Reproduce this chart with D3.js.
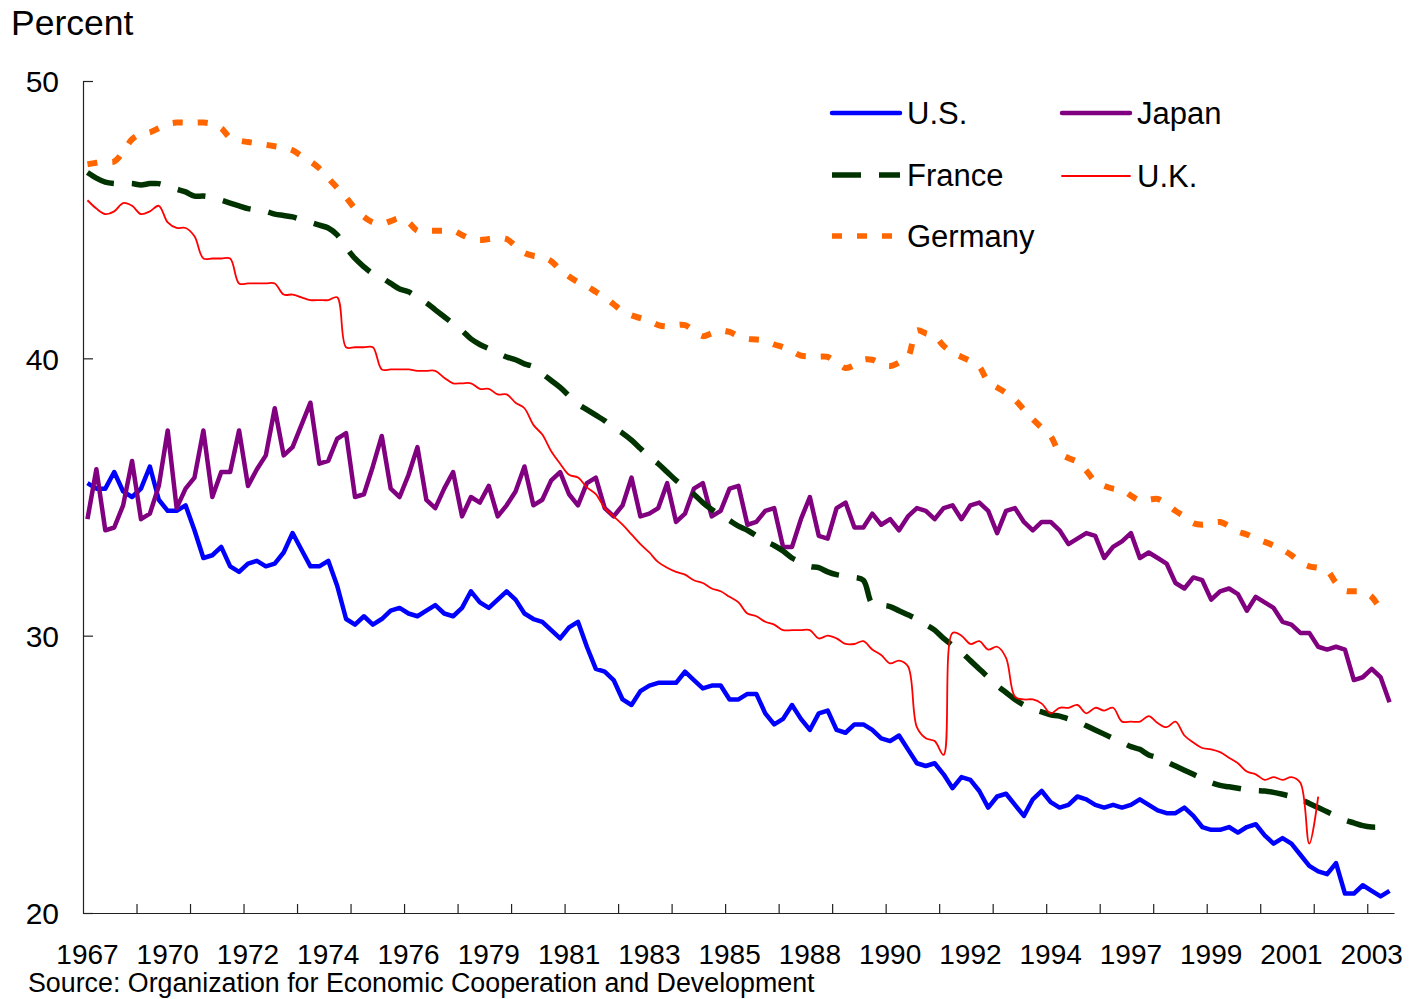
<!DOCTYPE html>
<html>
<head>
<meta charset="utf-8">
<script src="https://cdn.jsdelivr.net/npm/d3@7"></script>
<style>
  body { margin: 0; background: #fff; }
  svg { display: block; font-family: "Liberation Sans", Arial, sans-serif; }
</style>
</head>
<body>
<figure id="chart" style="margin:0"></figure>
<script>
// quarterly data, 1967Q4 .. 2004Q2
const startYear = 1967, startQuarter = 4, nQuarters = 147;
const quarters = [];
for (let i = 0; i < nQuarters; i++) {
  const q = startQuarter - 1 + i;
  quarters.push((startYear + Math.floor(q / 4)) + "Q" + (q % 4 + 1));
}

// one label every 9 quarters
const xTickLabels = ["1967", "1970", "1972", "1974", "1976", "1979", "1981", "1983", "1985",
  "1988", "1990", "1992", "1994", "1997", "1999", "2001", "2003"];
const yTicks = [20, 30, 40, 50];

const usValues = [
  35.5, 35.3, 35.3, 35.9, 35.2, 35.0, 35.3, 36.1, 34.9, 34.5,
  34.5, 34.7, 33.8, 32.8, 32.9, 33.2, 32.5, 32.3, 32.6, 32.7,
  32.5, 32.6, 33.0, 33.7, 33.1, 32.5, 32.5, 32.7, 31.8, 30.6,
  30.4, 30.7, 30.4, 30.6, 30.9, 31.0, 30.8, 30.7, 30.9, 31.1,
  30.8, 30.7, 31.0, 31.6, 31.2, 31.0, 31.3, 31.6, 31.3, 30.8,
  30.6, 30.5, 30.2, 29.9, 30.3, 30.5, 29.6, 28.8, 28.7, 28.4,
  27.7, 27.5, 28.0, 28.2, 28.3, 28.3, 28.3, 28.7, 28.4, 28.1,
  28.2, 28.2, 27.7, 27.7, 27.9, 27.9, 27.2, 26.8, 27.0, 27.5,
  27.0, 26.6, 27.2, 27.3, 26.6, 26.5, 26.8, 26.8, 26.6, 26.3,
  26.2, 26.4, 25.9, 25.4, 25.3, 25.4, 25.0, 24.5, 24.9, 24.8,
  24.4, 23.8, 24.2, 24.3, 23.9, 23.5, 24.1, 24.4, 24.0, 23.8,
  23.9, 24.2, 24.1, 23.9, 23.8, 23.9, 23.8, 23.9, 24.1, 23.9,
  23.7, 23.6, 23.6, 23.8, 23.5, 23.1, 23.0, 23.0, 23.1, 22.9,
  23.1, 23.2, 22.8, 22.5, 22.7, 22.5, 22.1, 21.7, 21.5, 21.4,
  21.8, 20.7, 20.7, 21.0, 20.8, 20.6, 20.8
];

const japanValues = [
  34.2, 36.0, 33.8, 33.9, 34.7, 36.3, 34.2, 34.4, 35.4, 37.4,
  34.6, 35.3, 35.7, 37.4, 35.0, 35.9, 35.9, 37.4, 35.4, 36.0,
  36.5, 38.2, 36.5, 36.8, 37.6, 38.4, 36.2, 36.3, 37.1, 37.3,
  35.0, 35.1, 36.1, 37.2, 35.3, 35.0, 35.8, 36.8, 34.9, 34.6,
  35.3, 35.9, 34.3, 35.0, 34.8, 35.4, 34.3, 34.7, 35.2, 36.1,
  34.7, 34.9, 35.6, 35.9, 35.1, 34.7, 35.5, 35.7, 34.6, 34.3,
  34.7, 35.7, 34.3, 34.4, 34.6, 35.5, 34.1, 34.4, 35.3, 35.5,
  34.3, 34.5, 35.3, 35.4, 34.0, 34.1, 34.5, 34.6, 33.2, 33.2,
  34.2, 35.0, 33.6, 33.5, 34.6, 34.8, 33.9, 33.9, 34.4, 34.0,
  34.2, 33.8, 34.3, 34.6, 34.5, 34.2, 34.6, 34.7, 34.2, 34.7,
  34.8, 34.5, 33.7, 34.5, 34.6, 34.1, 33.8, 34.1, 34.1, 33.8,
  33.3, 33.5, 33.7, 33.6, 32.8, 33.2, 33.4, 33.7, 32.8, 33.0,
  32.8, 32.6, 31.9, 31.7, 32.1, 32.0, 31.3, 31.6, 31.7, 31.5,
  30.9, 31.4, 31.2, 31.0, 30.5, 30.4, 30.1, 30.1, 29.6, 29.5,
  29.6, 29.5, 28.4, 28.5, 28.8, 28.5, 27.6
];

const franceValues = [
  46.7, 46.5, 46.35, 46.3, 46.3, 46.3, 46.25, 46.3, 46.3, 46.2,
  46.1, 46.0, 45.85, 45.85, 45.8, 45.7, 45.6, 45.5, 45.4, 45.35,
  45.3, 45.2, 45.15, 45.1, 45.0, 44.9, 44.8, 44.7, 44.45, 44.0,
  43.6, 43.3, 43.05, 42.9, 42.7, 42.5, 42.4, 42.2, 42.0, 41.75,
  41.5, 41.25, 41.0, 40.7, 40.5, 40.35, 40.2, 40.05, 39.95, 39.8,
  39.7, 39.45, 39.2, 38.95, 38.65, 38.35, 38.15, 37.95, 37.75, 37.5,
  37.3, 37.05, 36.75, 36.45, 36.2, 35.9, 35.6, 35.35, 35.1, 34.8,
  34.55, 34.35, 34.15, 33.95, 33.8, 33.6, 33.4, 33.25, 33.05, 32.8,
  32.65, 32.5, 32.45, 32.3, 32.2, 32.15, 32.1, 32.0, 31.15, 31.1,
  31.05, 30.9, 30.75, 30.6, 30.4, 30.2, 29.9, 29.65, 29.4, 29.1,
  28.8, 28.5, 28.2, 27.95, 27.7, 27.5, 27.35, 27.25, 27.15, 27.1,
  27.0, 26.9, 26.75, 26.6, 26.45, 26.3, 26.15, 26.0, 25.9, 25.7,
  25.6, 25.45, 25.3, 25.15, 25.0, 24.85, 24.7, 24.6, 24.55, 24.5,
  24.45, 24.42, 24.4, 24.35, 24.28, 24.2, 24.1, 23.95, 23.8, 23.65,
  23.5, 23.35, 23.25, 23.15, 23.1, 23.1, null
];

const ukValues = [
  45.7, 45.4, 45.2, 45.3, 45.6, 45.5, 45.2, 45.3, 45.5, 44.9,
  44.7, 44.7, 44.4, 43.6, 43.6, 43.6, 43.6, 42.7, 42.7, 42.7,
  42.7, 42.7, 42.3, 42.3, 42.2, 42.1, 42.1, 42.1, 42.2, 40.4,
  40.4, 40.4, 40.4, 39.6, 39.6, 39.6, 39.6, 39.55, 39.55, 39.55,
  39.3, 39.1, 39.1, 39.1, 38.9, 38.9, 38.7, 38.7, 38.4, 38.2,
  37.6, 37.25, 36.65, 36.2, 35.8, 35.7, 35.35, 35.1, 34.6, 34.3,
  34.0, 33.65, 33.3, 33.0, 32.65, 32.45, 32.3, 32.2, 32.0, 31.9,
  31.7, 31.6, 31.4, 31.2, 30.8, 30.7, 30.5, 30.4, 30.2, 30.2,
  30.2, 30.2, 29.9, 30.0, 29.9, 29.7, 29.7, 29.8, 29.5, 29.3,
  29.0, 29.1, 28.9, 26.7, 26.3, 26.2, 25.7, 30.1, 30.0, 29.7,
  29.8, 29.5, 29.6, 29.2, 27.8, 27.7, 27.7, 27.55, 27.2, 27.4,
  27.4, 27.5, 27.2, 27.4, 27.3, 27.4, 26.9, 26.9, 26.9, 27.1,
  26.85, 26.7, 26.9, 26.4, 26.15, 25.95, 25.9, 25.8, 25.6, 25.4,
  25.1, 25.0, 24.8, 24.9, 24.8, 24.9, 24.7, 22.5, 24.2, null,
  null, null, null, null, null, null, null
];

const germanyValues = [
  47.0, 47.05, 47.1, 47.1, 47.45, 47.9, 48.1, 48.15, 48.3, 48.45,
  48.5, 48.5, 48.5, 48.5, 48.45, 48.3, 47.95, 47.85, 47.8, 47.75,
  47.7, 47.65, 47.6, 47.5, 47.3, 47.1, 46.85, 46.5, 46.15, 45.8,
  45.4, 45.1, 44.9, 44.85, 44.95, 45.05, 44.9, 44.6, 44.6, 44.6,
  44.6, 44.6, 44.45, 44.3, 44.27, 44.3, 44.33, 44.3, 44.05, 43.8,
  43.7, 43.65, 43.5, 43.2, 42.95, 42.75, 42.6, 42.4, 42.2, 41.95,
  41.7, 41.55, 41.45, 41.35, 41.2, 41.15, 41.2, 41.2, 41.0, 40.8,
  40.9, 41.0, 40.95, 40.8, 40.7, 40.68, 40.63, 40.5, 40.4, 40.25,
  40.1, 40.07, 40.06, 40.05, 39.85, 39.65, 39.75, 39.95, 39.95, 39.8,
  39.72, 39.85, 40.05, 41.0, 40.9, 40.8, 40.45, 40.2, 40.05, 39.9,
  39.7, 39.15, 38.95, 38.75, 38.5, 38.15, 37.8, 37.5, 37.2, 36.6,
  36.4, 36.27, 35.95, 35.55, 35.4, 35.3, 35.25, 35.05, 34.87, 34.9,
  34.93, 34.75, 34.5, 34.3, 34.05, 34.0, 34.05, 34.1, 33.95, 33.75,
  33.65, 33.5, 33.38, 33.25, 33.1, 32.9, 32.65, 32.5, 32.45, 32.35,
  31.9, 31.62, 31.6, 31.58, 31.4, 31.0, 30.9
];

const series = [
  { name: "U.S.", values: usValues, color: "#0000ff", width: 4.5, dash: null, smooth: false },
  { name: "Japan", values: japanValues, color: "#800080", width: 4.5, dash: null, smooth: false },
  { name: "France", values: franceValues, color: "#003300", width: 5.5, dash: "29,18", smooth: true },
  { name: "U.K.", values: ukValues, color: "#ff0000", width: 1.8, dash: null, smooth: true },
  { name: "Germany", values: germanyValues, color: "#ff6600", width: 6, dash: "10,15", smooth: true }
];

const width = 1415, height = 999;
const plot = { left: 83, right: 1394, top: 81, bottom: 913 };

const svg = d3.select("#chart").append("svg")
  .attr("width", width)
  .attr("height", height);

const x = d3.scaleBand().domain(quarters).range([plot.left, plot.right]);
const xEdge = d3.scaleLinear().domain([0, nQuarters]).range([plot.left, plot.right]);
const y = d3.scaleLinear().domain([20, 50]).range([plot.bottom, plot.top]);

// y axis, ticks pointing inward
svg.append("g")
  .attr("transform", "translate(" + plot.left + ",0)")
  .call(d3.axisLeft(y).tickValues(yTicks).tickSizeInner(-10).tickSizeOuter(0).tickPadding(24))
  .call(g => g.selectAll("text").attr("font-size", 30).attr("fill", "#000").attr("dy", "0.36em"))
  .call(g => g.selectAll("path, line").attr("stroke", "#222").attr("stroke-width", 1.2));

// x axis: tick marks every 6 quarters
svg.append("g")
  .attr("transform", "translate(0," + plot.bottom + ")")
  .call(d3.axisBottom(xEdge).tickValues(d3.range(6, nQuarters, 6)).tickSizeInner(-9).tickSizeOuter(0).tickFormat(""))
  .call(g => g.selectAll("path, line").attr("stroke", "#222").attr("stroke-width", 1.2));

// x labels every 9 quarters
const labelQuarters = quarters.filter((d, i) => i % 9 === 0);
svg.append("g")
  .attr("transform", "translate(0," + plot.bottom + ")")
  .call(d3.axisBottom(x).tickValues(labelQuarters).tickSize(0).tickPadding(31)
    .tickFormat((d, i) => xTickLabels[i]))
  .call(g => g.select(".domain").remove())
  .call(g => g.selectAll("text").attr("font-size", 28).attr("fill", "#000"));

// series lines
series.forEach(s => {
  const line = d3.line()
    .defined(d => d.v != null)
    .x(d => x(d.q) + x.bandwidth() / 2)
    .y(d => y(d.v))
    .curve(s.smooth ? d3.curveCatmullRom.alpha(0.5) : d3.curveLinear);
  svg.append("path")
    .datum(s.values.map((v, i) => ({ q: quarters[i], v: v })))
    .attr("fill", "none")
    .attr("stroke", s.color)
    .attr("stroke-width", s.width)
    .attr("stroke-dasharray", s.dash)
    .attr("stroke-linejoin", "round")
    .attr("d", line);
});

// legend
const legendPos = [
  { x: 832, y: 113 }, { x: 1062, y: 113 },
  { x: 832, y: 175 }, { x: 1062, y: 176 },
  { x: 832, y: 236 }
];
series.forEach((s, i) => {
  const p = legendPos[i];
  svg.append("line")
    .attr("x1", p.x).attr("x2", p.x + 68)
    .attr("y1", p.y).attr("y2", p.y)
    .attr("stroke", s.color)
    .attr("stroke-width", Math.min(s.width, 5.5))
    .attr("stroke-dasharray", s.dash)
    .attr("stroke-linecap", s.dash ? "butt" : "round");
  svg.append("text")
    .attr("x", p.x + 75)
    .attr("y", p.y + 11)
    .attr("font-size", 31)
    .text(s.name);
});

svg.append("text")
  .attr("x", 11)
  .attr("y", 35)
  .attr("font-size", 35.5)
  .text("Percent");

svg.append("text")
  .attr("x", 28)
  .attr("y", 992)
  .attr("font-size", 26.8)
  .text("Source: Organization for Economic Cooperation and Development");
</script>
</body>
</html>
